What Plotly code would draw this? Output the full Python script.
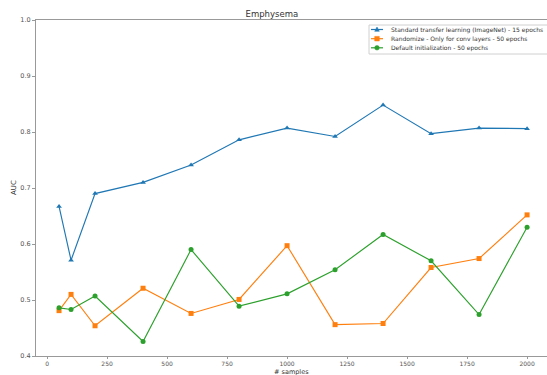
import plotly.graph_objects as go

samples = [50, 100, 200, 400, 600, 800, 1000, 1200, 1400, 1600, 1800, 2000]
auc_imagenet = [0.667, 0.571, 0.690, 0.710, 0.741, 0.786, 0.807, 0.792, 0.848, 0.797, 0.807, 0.806]
auc_randomize = [0.481, 0.510, 0.454, 0.521, 0.476, 0.501, 0.597, 0.456, 0.458, 0.558, 0.574, 0.652]
auc_default = [0.486, 0.483, 0.507, 0.426, 0.590, 0.489, 0.511, 0.554, 0.617, 0.570, 0.474, 0.630]

series = [
    ("Standard transfer learning (ImageNet) - 15 epochs", auc_imagenet, "#1f77b4", "triangle-up"),
    ("Randomize - Only for conv layers - 50 epochs", auc_randomize, "#ff7f0e", "square"),
    ("Default initialization - 50 epochs", auc_default, "#2ca02c", "circle"),
]

W, H = 547, 375
ML, MR, MT, MB = 36, 0, 20, 19
PW, PH = W - ML - MR, H - MT - MB


def px(x):
    return (x - ML) / PW


def py(y):
    return (H - MB - y) / PH


fig = go.Figure()
for name, vals, color, symbol in series:
    fig.add_trace(go.Scatter(
        x=samples, y=vals, name=name, mode="lines+markers",
        line=dict(color=color, width=1.15),
        marker=dict(symbol=symbol, size=5, color=color),
        showlegend=False,
    ))

# compact legend box drawn with shapes and annotations
shapes = [dict(type="rect", xref="paper", yref="paper",
               x0=px(369), x1=px(560), y0=py(54), y1=py(25),
               line=dict(color="#d0d0d0", width=1), fillcolor="rgba(255,255,255,0.85)", layer="above")]
annotations = []
rows = [29.5, 38.7, 47.8]
for (name, _, color, symbol), ry in zip(series, rows):
    shapes.append(dict(type="line", xref="paper", yref="paper",
                       x0=px(371), x1=px(383), y0=py(ry), y1=py(ry),
                       line=dict(color=color, width=1.2), layer="above"))
    cx, r = 377, 2.3
    if symbol == "triangle-up":
        path = "M {} {} L {} {} L {} {} Z".format(px(cx - r), py(ry + r * 0.8), px(cx + r), py(ry + r * 0.8),
                                                  px(cx), py(ry - r * 1.1))
        shapes.append(dict(type="path", xref="paper", yref="paper", path=path,
                           fillcolor=color, line=dict(color=color, width=0.5), layer="above"))
    elif symbol == "square":
        shapes.append(dict(type="rect", xref="paper", yref="paper",
                           x0=px(cx - r), x1=px(cx + r), y0=py(ry + r), y1=py(ry - r),
                           fillcolor=color, line=dict(color=color, width=0.5), layer="above"))
    else:
        shapes.append(dict(type="circle", xref="paper", yref="paper",
                           x0=px(cx - r), x1=px(cx + r), y0=py(ry + r), y1=py(ry - r),
                           fillcolor=color, line=dict(color=color, width=0.5), layer="above"))
    annotations.append(dict(text=name, xref="paper", yref="paper", x=px(389), y=py(ry),
                            xanchor="left", yanchor="middle", showarrow=False,
                            font=dict(family="DejaVu Sans", size=6, color="#333333")))

# axis titles placed as annotations below / left of the ticks
annotations.append(dict(text="# samples", xref="paper", yref="paper", x=px(291), y=py(371.5),
                        xanchor="center", yanchor="middle", showarrow=False, borderpad=0,
                        font=dict(family="DejaVu Sans", size=6.5, color="#333333")))
annotations.append(dict(text="AUC", xref="paper", yref="paper", x=px(14), y=py(188),
                        xanchor="center", yanchor="middle", showarrow=False, textangle=-90,
                        font=dict(family="DejaVu Sans", size=7, color="#333333")))

fig.update_layout(
    width=W, height=H,
    margin=dict(l=ML, r=MR, t=MT, b=MB),
    paper_bgcolor="white", plot_bgcolor="white",
    font=dict(family="DejaVu Sans", size=7, color="#333333"),
    title=dict(text="Emphysema", x=px(290), xanchor="center", y=(H - 14) / H, yanchor="middle",
               font=dict(family="DejaVu Sans", size=8.5, color="#333333")),
    showlegend=False,
    shapes=shapes,
    annotations=annotations,
    xaxis=dict(range=[-46, 2083], tickvals=[0, 250, 500, 750, 1000, 1250, 1500, 1750, 2000],
               showgrid=False, zeroline=False, showline=True, linecolor="#999999", linewidth=1,
               mirror=True, ticks="outside", ticklen=2, tickcolor="#999999",
               tickfont=dict(family="DejaVu Sans", size=6, color="#555555"), automargin=False),
    yaxis=dict(range=[0.4, 1.0], tickvals=[0.4, 0.5, 0.6, 0.7, 0.8, 0.9, 1.0],
               tickformat=".1f",
               showgrid=False, zeroline=False, showline=True, linecolor="#999999", linewidth=1,
               mirror=False, ticks="outside", ticklen=3, tickcolor="#999999",
               tickfont=dict(family="DejaVu Sans", size=6.5, color="#555555"), automargin=False),
)

fig.write_html("out.html")
